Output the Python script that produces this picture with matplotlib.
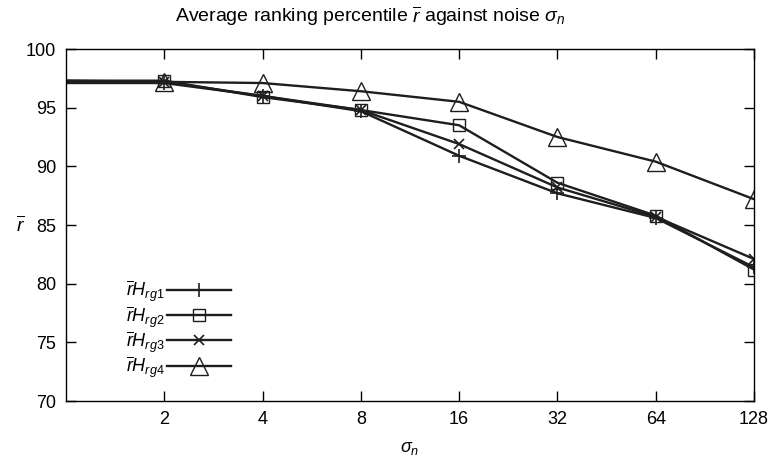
import numpy as np
import matplotlib
matplotlib.use('Agg')
import matplotlib.pyplot as plt

plt.rcParams['font.family'] = ['Liberation Sans', 'DejaVu Sans']
plt.rcParams['mathtext.fontset'] = 'custom'
plt.rcParams['mathtext.rm'] = 'Liberation Sans'
plt.rcParams['mathtext.it'] = 'Liberation Sans:italic'

# noise sigma_n (first point sits on the left border, no marker)
sigma = [1, 2, 4, 8, 16, 32, 64, 128]
xticks = [2, 4, 8, 16, 32, 64, 128]

rg1 = [97.1, 97.1, 96.0, 94.7, 90.9, 87.7, 85.6, 81.4]
rg2 = [97.3, 97.3, 95.9, 94.8, 93.5, 88.6, 85.8, 81.2]
rg3 = [97.2, 97.2, 96.0, 94.8, 91.9, 88.2, 85.7, 82.1]
rg4 = [97.3, 97.2, 97.1, 96.4, 95.5, 92.5, 90.4, 87.2]

labels = [r'$\overline{r}H_{rg1}$', r'$\overline{r}H_{rg2}$',
          r'$\overline{r}H_{rg3}$', r'$\overline{r}H_{rg4}$']

fig = plt.figure(figsize=(7.72, 4.63), dpi=100)
ax = fig.add_axes([66 / 772, 1 - 401 / 463, 688 / 772, 352 / 463])

c = '#1e1e1e'
ax.plot(sigma, rg1, color=c, lw=1.7, marker='+', ms=10, mew=1.2,
        markevery=slice(1, None), label=labels[0])
ax.plot(sigma, rg2, color=c, lw=1.7, marker='s', ms=9, mew=1.0, mfc='none',
        markevery=slice(1, None), label=labels[1])
ax.plot(sigma, rg3, color=c, lw=1.7, marker='x', ms=7.5, mew=1.2,
        markevery=slice(1, None), label=labels[2])
ax.plot(sigma, rg4, color=c, lw=1.7, marker='^', ms=12.5, mew=1.0, mfc='none',
        markevery=slice(1, None), label=labels[3])

ax.set_xscale('log', base=2)
ax.set_xlim(1, 128)
ax.set_ylim(70, 100)
ax.set_xticks(xticks)
ax.set_xticklabels([str(t) for t in xticks])
ax.minorticks_off()
ax.set_yticks(np.arange(70, 101, 5))
ax.tick_params(direction='in', length=7, width=1, top=True, right=True,
               labelsize=13, pad=7)

for s in ax.spines.values():
    s.set_linewidth(1.0)

fig.text(370 / 772, 1 - 16 / 463,
         r'Average ranking percentile $\overline{r}$ against noise $\sigma_n$',
         fontsize=14, ha='center', va='center')
ax.set_xlabel(r'$\sigma_n$', fontsize=13, labelpad=9)
ax.set_ylabel(r'$\overline{r}$', fontsize=14, rotation=0, labelpad=4, va='center')

ax.legend(loc='lower left', bbox_to_anchor=(0.087, 0.06), frameon=False,
          markerfirst=False, handlelength=3.55, fontsize=13,
          labelspacing=-0.03, handletextpad=0.15, borderpad=0,
          borderaxespad=0)

fig.savefig('out.png', dpi=100)
